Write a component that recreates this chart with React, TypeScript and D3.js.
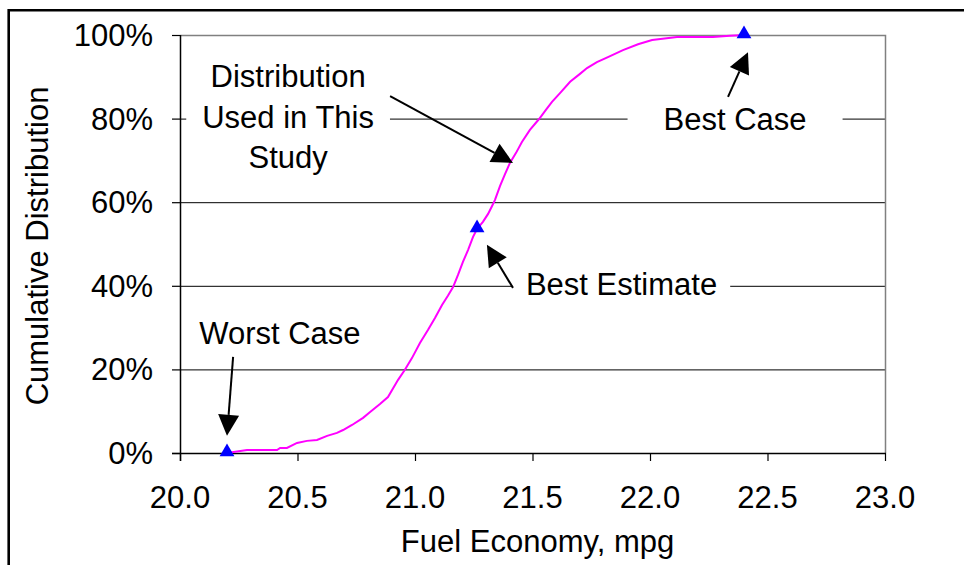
import React, { useEffect, useRef } from "react";
import * as d3 from "d3";

// Cumulative distribution curve (fuel economy mpg, cumulative %)
const mpg = [20.2, 20.221, 20.285, 20.413, 20.426, 20.455, 20.498, 20.54, 20.583, 20.626, 20.668, 20.694, 20.732, 20.779, 20.809, 20.851, 20.885, 20.928, 20.957, 20.987, 21.021, 21.055, 21.085, 21.115, 21.14, 21.162, 21.183, 21.204, 21.226, 21.247, 21.264, 21.289, 21.311, 21.328, 21.34, 21.362, 21.383, 21.404, 21.43, 21.455, 21.489, 21.528, 21.557, 21.583, 21.617, 21.66, 21.702, 21.732, 21.774, 21.821, 21.885, 21.949, 22.009, 22.115, 22.268, 22.34, 22.404];
const cumPct = [0, 0.2, 0.7, 0.7, 1.2, 1.2, 2.4, 2.9, 3.1, 4.1, 4.8, 5.5, 6.7, 8.4, 9.8, 11.7, 13.4, 17.5, 19.9, 22.7, 26.3, 29.4, 32.3, 35.4, 37.6, 39.7, 42.6, 45.7, 48.6, 51.7, 53.6, 55.3, 57.2, 59.1, 60.5, 63.9, 66.7, 69.4, 71.8, 74.4, 77.3, 79.9, 82.1, 84.0, 86.1, 88.8, 90.7, 92.1, 93.5, 94.7, 96.4, 97.8, 98.8, 99.5, 99.5, 99.8, 100];

// Marked cases
const markerX = [20.2, 21.264, 22.4];
const markerY = [0, 53.6, 100];

// Axis ticks
const xTicks = [20.0, 20.5, 21.0, 21.5, 22.0, 22.5, 23.0];
const yTicks = [0, 20, 40, 60, 80, 100];

// Annotations (text lines, anchor in data units)
const annoLines = [["Worst Case"], ["Distribution", "Used in This", "Study"], ["Best Case"], ["Best Estimate"]];
const annoX = [20.425, 20.46, 22.362, 21.879];
const annoY = [26.1, 87.5, 77.3, 37.8];
const annoPad = [10, 16, 36, 13];

// Arrows (tail -> tip, data units)
const arrowTailX = [20.226, 20.894, 22.332, 21.417];
const arrowTailY = [23.0, 85.4, 85.2, 39.5];
const arrowTipX = [20.2, 21.417, 22.417, 21.306];
const arrowTipY = [4.1, 69.4, 95.9, 49.8];

const W = 964;
const H = 565;
const FONT = "'Liberation Sans', Arial, sans-serif";
const FS = 31;

export default function App() {
  const ref = useRef<SVGSVGElement>(null);

  useEffect(() => {
    const svg = d3.select(ref.current);
    svg.selectAll("*").remove();

    const left = 180, right = 885, top = 35, bottom = 453;
    const x = d3.scaleLinear().domain([20, 23]).range([left, right]);
    const y = d3.scaleLinear().domain([0, 100]).range([bottom, top]);

    svg.append("rect").attr("width", W).attr("height", H).attr("fill", "#fff");

    // outer frame
    svg.append("path")
      .attr("d", `M8.7,${H + 10} L8.7,10.3 L${W + 10},10.3`)
      .attr("fill", "none").attr("stroke", "#000").attr("stroke-width", 2.6);

    // gridlines
    svg.append("g").selectAll("line").data(yTicks.filter(t => t > 0 && t < 100)).join("line")
      .attr("x1", left).attr("x2", right)
      .attr("y1", d => y(d) + 0.5).attr("y2", d => y(d) + 0.5)
      .attr("stroke", "#000").attr("stroke-width", 1);

    // plot border (gray top/right)
    svg.append("path")
      .attr("d", `M${left},${top + 0.5} L${right + 0.5},${top + 0.5} L${right + 0.5},${bottom}`)
      .attr("fill", "none").attr("stroke", "#808080").attr("stroke-width", 1.5);

    // annotation boxes + text
    const ag = svg.append("g");
    annoLines.forEach((lines, i) => {
      const g = ag.append("g");
      const rect = g.append("rect").attr("fill", "#fff");
      const t = g.append("text")
        .attr("font-family", FONT).attr("font-size", FS).attr("fill", "#000")
        .attr("text-anchor", "middle");
      lines.forEach((ln, j) => {
        t.append("tspan").attr("x", x(annoX[i])).attr("y", y(annoY[i]) + j * 40.5).text(ln);
      });
      const bb = (t.node() as SVGTextElement).getBBox();
      rect.attr("x", bb.x - annoPad[i]).attr("y", bb.y - 4)
        .attr("width", bb.width + 2 * annoPad[i]).attr("height", bb.height + 8);
    });

    // axes lines
    svg.append("line").attr("x1", left + 0.5).attr("x2", left + 0.5).attr("y1", top).attr("y2", bottom + 8)
      .attr("stroke", "#000").attr("stroke-width", 1.5);
    svg.append("line").attr("x1", left - 8).attr("x2", right + 1).attr("y1", bottom + 0.5).attr("y2", bottom + 0.5)
      .attr("stroke", "#000").attr("stroke-width", 1.5);

    // ticks
    svg.append("g").selectAll("line").data(yTicks).join("line")
      .attr("x1", left - 8).attr("x2", left)
      .attr("y1", d => y(d) + 0.5).attr("y2", d => y(d) + 0.5)
      .attr("stroke", "#000").attr("stroke-width", 1.2);
    svg.append("g").selectAll("line").data(xTicks).join("line")
      .attr("x1", d => x(d) + 0.5).attr("x2", d => x(d) + 0.5)
      .attr("y1", bottom).attr("y2", bottom + 8)
      .attr("stroke", "#000").attr("stroke-width", 1.2);

    // tick labels
    svg.append("g").selectAll("text").data(yTicks).join("text")
      .attr("x", 153).attr("y", d => y(d) + 11)
      .attr("text-anchor", "end").attr("font-family", FONT).attr("font-size", FS)
      .text(d => `${d}%`);
    svg.append("g").selectAll("text").data(xTicks).join("text")
      .attr("x", d => x(d)).attr("y", 508)
      .attr("text-anchor", "middle").attr("font-family", FONT).attr("font-size", FS)
      .text(d => d3.format(".1f")(d));

    // axis titles
    svg.append("text").attr("x", (left + right) / 2 + 5).attr("y", 552)
      .attr("text-anchor", "middle").attr("font-family", FONT).attr("font-size", FS)
      .text("Fuel Economy, mpg");
    svg.append("text").attr("transform", `translate(48,${(top + bottom) / 2 + 2}) rotate(-90)`)
      .attr("text-anchor", "middle").attr("font-family", FONT).attr("font-size", FS)
      .text("Cumulative Distribution");

    // curve
    const pts = mpg.map((m, i) => [m, cumPct[i]] as [number, number]);
    const line = d3.line<[number, number]>().x(d => x(d[0])).y(d => y(d[1]));
    svg.append("path").attr("d", line(pts)).attr("fill", "none")
      .attr("stroke", "#FF00FF").attr("stroke-width", 2);

    // markers
    const tri = d3.symbol().type(d3.symbolTriangle).size(95);
    svg.append("g").selectAll("path").data(markerX).join("path")
      .attr("d", tri())
      .attr("transform", (d, i) => `translate(${x(d)},${y(markerY[i]) - 1})`)
      .attr("fill", "#0000FF");

    // arrows
    arrowTailX.forEach((tx, i) => {
      const x0 = x(tx), y0 = y(arrowTailY[i]);
      const x1 = x(arrowTipX[i]), y1 = y(arrowTipY[i]);
      const dx = x1 - x0, dy = y1 - y0;
      const len = Math.hypot(dx, dy);
      const ux = dx / len, uy = dy / len;
      const hl = 21, hw = 10.5;
      const bx = x1 - ux * hl, by = y1 - uy * hl;
      svg.append("line").attr("x1", x0).attr("y1", y0).attr("x2", bx).attr("y2", by)
        .attr("stroke", "#000").attr("stroke-width", 2);
      svg.append("path")
        .attr("d", `M${x1},${y1} L${bx - uy * hw},${by + ux * hw} L${bx + uy * hw},${by - ux * hw} Z`)
        .attr("fill", "#000");
    });
  }, []);

  return (
    <div style={{ position: "absolute", left: 0, top: 0, width: W, height: H }}>
      <svg ref={ref} width={W} height={H} style={{ display: "block" }} />
    </div>
  );
}
